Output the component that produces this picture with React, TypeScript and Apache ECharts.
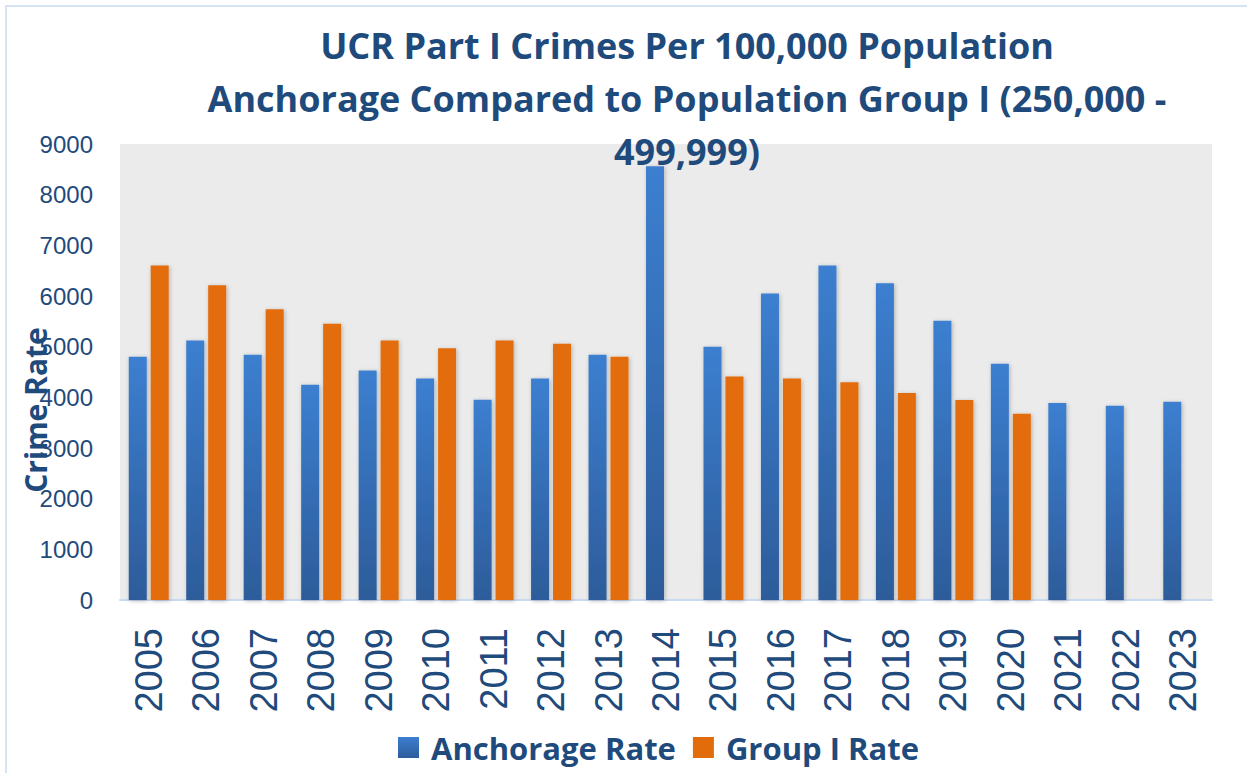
import React, { useEffect, useRef } from "react";
import * as echarts from "echarts";

const years = ["2005","2006","2007","2008","2009","2010","2011","2012","2013","2014","2015","2016","2017","2018","2019","2020","2021","2022","2023"];
const anchorageRate = [4800, 5120, 4840, 4250, 4530, 4370, 3950, 4370, 4840, 8560, 5000, 6050, 6600, 6250, 5510, 4665, 3890, 3835, 3915];
const groupIRate = [6600, 6210, 5740, 5450, 5120, 4970, 5120, 5060, 4800, null, 4410, 4370, 4300, 4085, 3945, 3675, null, null, null];
const yMin = 0;
const yMax = 9000;
const yInterval = 1000;
const titleLines = [
  "UCR Part I Crimes Per 100,000 Population",
  "Anchorage Compared to Population Group I (250,000 -",
  "499,999)",
];
const seriesNames = ["Anchorage Rate", "Group I Rate"];
const yAxisName = "Crime Rate";

const TEXT = "#1f4a7c";
const TITLE_FONT = "'Open Sans', 'Noto Sans', sans-serif";

export default function App() {
  const ref = useRef<HTMLDivElement>(null);
  useEffect(() => {
    if (!ref.current) return;
    const chart = echarts.init(ref.current, undefined, { renderer: "svg" });
    const blue = new echarts.graphic.LinearGradient(0, 0, 0, 1, [
      { offset: 0, color: "#3c7fd0" },
      { offset: 1, color: "#2d5c9a" },
    ]);
    const titleY = [45.5, 98, 151];
    chart.setOption({
      animation: false,
      backgroundColor: "#ffffff",
      grid: {
        left: 120,
        right: 35,
        top: 144,
        bottom: 173,
        show: true,
        backgroundColor: "#ebebeb",
        borderWidth: 0,
      },
      legend: {
        left: 393,
        top: 727,
        itemWidth: 21,
        itemHeight: 21,
        itemGap: 17,
        icon: "rect",
        data: seriesNames,
        textStyle: {
          color: TEXT,
          fontFamily: TITLE_FONT,
          fontWeight: "bold",
          fontSize: 31,
          padding: [0, 0, 0, 7],
        },
      },
      xAxis: {
        type: "category",
        data: years,
        axisLine: { show: true, lineStyle: { color: "#c9daf0", width: 2 } },
        axisTick: { show: false },
        axisLabel: {
          rotate: 90,
          margin: 28,
          color: TEXT,
          fontFamily: "'Liberation Sans', Arial, sans-serif",
          fontSize: 38,
        },
        splitLine: { show: false },
      },
      yAxis: {
        type: "value",
        min: yMin,
        max: yMax,
        interval: yInterval,
        axisLine: { show: false },
        axisTick: { show: false },
        axisLabel: {
          margin: 27,
          color: TEXT,
          fontFamily: "'Liberation Sans', Arial, sans-serif",
          fontSize: 24,
          formatter: (v: number) => String(v),
        },
        splitLine: {
          show: true,
          lineStyle: {
            color: "#b6b6b6",
            width: 2,
            shadowColor: "rgba(0,0,0,0.12)",
            shadowBlur: 2,
            shadowOffsetY: 1,
          },
        },
      },
      series: [
        {
          name: seriesNames[0],
          type: "bar",
          data: anchorageRate,
          barWidth: 18,
          barGap: "22%",
          itemStyle: {
            color: blue,
            shadowColor: "rgba(0,0,0,0.25)",
            shadowBlur: 4,
            shadowOffsetX: 1,
            shadowOffsetY: 1,
          },
        },
        {
          name: seriesNames[1],
          type: "bar",
          data: groupIRate,
          barWidth: 18,
          barGap: "22%",
          itemStyle: {
            color: "#e36c0a",
            shadowColor: "rgba(0,0,0,0.25)",
            shadowBlur: 4,
            shadowOffsetX: 1,
            shadowOffsetY: 1,
          },
        },
      ],
      graphic: [
        {
          type: "rect",
          z: 0,
          silent: true,
          shape: { x: 6, y: 6, width: 1300, height: 900 },
          style: { fill: "none", stroke: "#d6e3f4", lineWidth: 2 },
        },
        ...titleLines.map((t, i) => ({
          type: "text",
          z: 100,
          x: 687,
          y: titleY[i],
          style: {
            text: t,
            fill: TEXT,
            font: `bold 36px ${TITLE_FONT}`,
            textAlign: "center",
            textVerticalAlign: "middle",
          },
        })),
        {
          type: "text",
          z: 100,
          x: 35,
          y: 410,
          rotation: Math.PI / 2,
          style: {
            text: yAxisName,
            fill: TEXT,
            font: `bold 30px ${TITLE_FONT}`,
            textAlign: "center",
            textVerticalAlign: "middle",
          },
        },
      ],
    });
    return () => chart.dispose();
  }, []);
  return (
    <div
      ref={ref}
      style={{ position: "absolute", left: 0, top: 0, width: 1247, height: 773 }}
    />
  );
}
